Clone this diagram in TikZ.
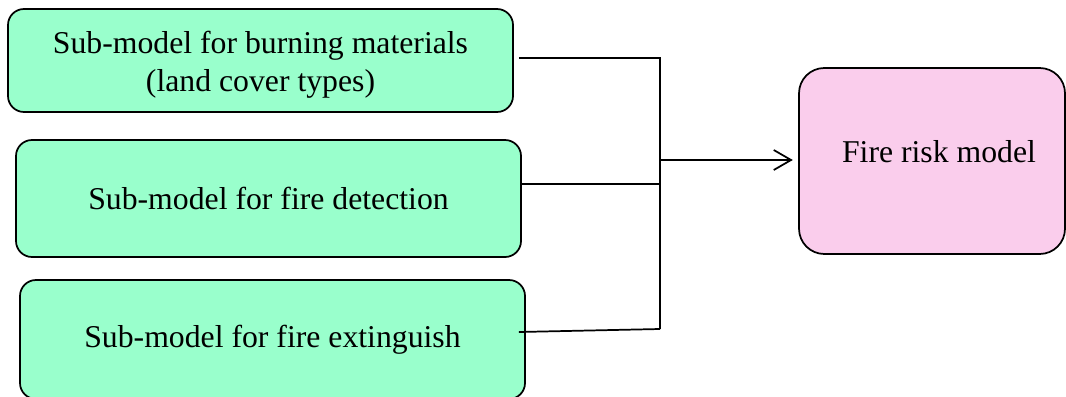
\documentclass[tikz,border=0pt]{standalone}
\usepackage{fontspec}
\setmainfont{Liberation Serif}
\usetikzlibrary{calc,arrows.meta}
\definecolor{subgreen}{RGB}{153,255,204}
\definecolor{riskpink}{RGB}{250,205,236}
\begin{document}
\begin{tikzpicture}[x=0.75pt,y=-0.75pt,
  subbox/.style={draw=black,line width=1.3pt,fill=subgreen,rounded corners=12pt,
    inner sep=0pt,minimum width=378.75pt,align=center,
    font=\fontsize{23.8}{28.5}\selectfont},
  riskbox/.style={draw=black,line width=1.3pt,fill=riskpink,rounded corners=19pt,
    inner sep=0pt,align=center,font=\fontsize{23.8}{27.75}\selectfont},
  conn/.style={draw=black,line width=1.3pt}]
\useasboundingbox (0,0) rectangle (1066,396);
\node[subbox,minimum height=77.25pt] (b1) at (260.5,60.5)
  {\rule{0pt}{23pt}Sub-model for burning materials\\(land cover types)};
\node[subbox,minimum height=87.75pt] (b2) at (268.5,198.5)
  {Sub-model for fire detection};
\node[subbox,minimum height=89.25pt] (b3) at (272.5,339.5)
  {Sub-model for fire extinguish};
\node[riskbox,minimum width=199.5pt,minimum height=139.5pt,text depth=14.7pt] (r) at (932,161)
  {\hspace*{10.5pt}Fire risk model};
\coordinate (j1) at (660,58);
\coordinate (j2) at (660,184);
\coordinate (j3) at (660,329);
\coordinate (jm) at (660,160);
\draw[conn] ($(b1.east |- j1)+(5,0)$) -- (j1) -- (j3);
\draw[conn] (b2.east |- j2) -- (j2);
\draw[conn] ($(b3.east)+(-7,-7.5)$) -- (j3);
\draw[conn,-{Straight Barb[length=13pt,width=15pt]},shorten >=4pt] (jm) -- (r.west |- jm);
\end{tikzpicture}
\end{document}
